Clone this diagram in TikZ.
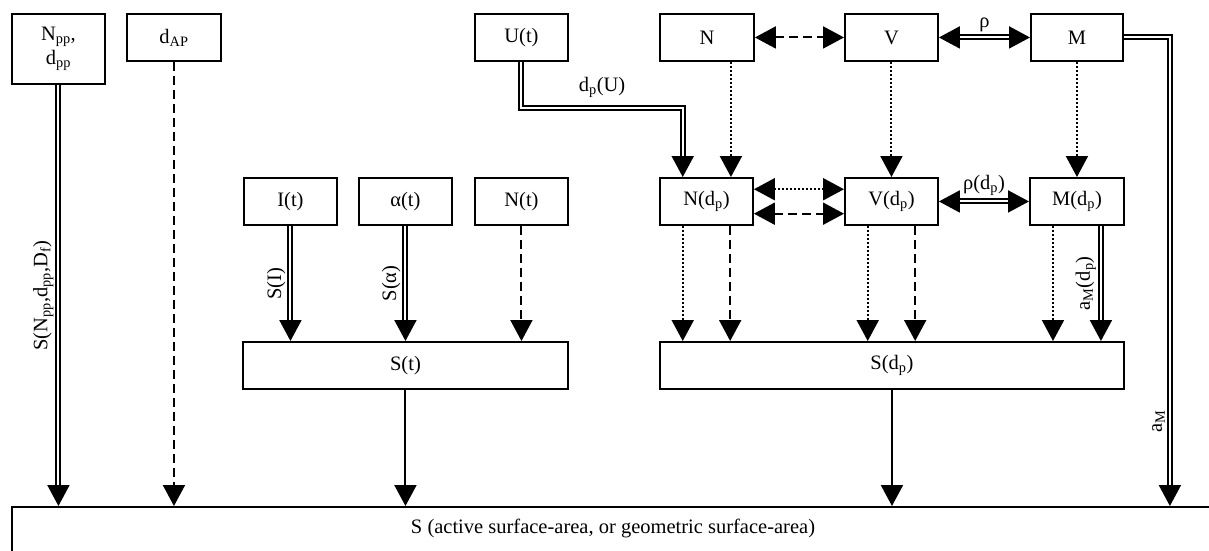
\documentclass[tikz,border=0pt]{standalone}
\usepackage{fontspec}
\setmainfont{Liberation Serif}
\usetikzlibrary{arrows.meta,calc}
\tikzset{
  box/.style={draw, line width=1.9pt, minimum width=93pt, minimum height=47pt, inner sep=0pt, anchor=north west, align=center},
  tipend/.style={-{Triangle[length=21pt,width=22pt]}},
  tipboth/.style={{Triangle[length=21pt,width=22pt]}-{Triangle[length=21pt,width=22pt]}},
  sol/.style={line width=2pt},
  dsh/.style={line width=2pt, dash pattern=on 9pt off 5pt},
  dtt/.style={line width=2pt, dash pattern=on 2pt off 2pt},
  dbl/.style={double, line width=2pt, double distance=2pt},
  vlab/.style={rotate=90, anchor=south, inner sep=4pt},
}
\newcommand\sbs[1]{\textsubscript{#1}}
\begin{document}
\begin{tikzpicture}[x=1pt,y=-1pt,font=\fontsize{20.5}{24}\selectfont]
\useasboundingbox (0,0) rectangle (1209,550);
\clip (0,0) rectangle (1209,550);
% top row
\node[box, minimum width=93pt, minimum height=70pt] (npp) at (11,13) {N\sbs{pp},\\d\sbs{pp}};
\node[box, minimum width=94pt] (dap) at (126,13) {d\sbs{AP}};
\node[box] (ut) at (474,13) {U(t)};
\node[box, minimum width=94pt] (n) at (659,13) {N};
\node[box] (v) at (844,13) {V};
\node[box, minimum width=92pt] (m) at (1030,13) {M};
% middle row
\node[box] (it) at (243,177) {I(t)};
\node[box] (at) at (358,177) {α(t)};
\node[box] (nt) at (474,177) {N(t)};
\node[box] (ndp) at (659,177) {N(d\sbs{p})};
\node[box] (vdp) at (844,177) {V(d\sbs{p})};
\node[box, minimum width=94pt] (mdp) at (1029,177) {M(d\sbs{p})};
% S row
\node[box, minimum width=325pt] (st) at (242,341) {S(t)};
\node[box, minimum width=464pt] (sdp) at (659,341) {S(d\sbs{p})};
% bottom
\node[box, minimum width=1240pt, minimum height=70pt] (bot) at (11,506) {};
\node (bottxt) at (613,528) {S (active surface-area, or geometric surface-area)};
% helper coordinates
\coordinate (ndpA) at ($(ndp.north west)!0.25!(ndp.north east)$);
\coordinate (ndpB) at ($(ndp.south west)!0.75!(ndp.south east)$);
\coordinate (ndpA2) at ($(ndp.south west)!0.25!(ndp.south east)$);
\coordinate (ndpNE) at ($(ndp.north east)!0.25!(ndp.south east)$);
\coordinate (ndpSE) at ($(ndp.north east)!0.75!(ndp.south east)$);
\coordinate (vdpNW) at ($(vdp.north west)!0.25!(vdp.south west)$);
\coordinate (vdpSW) at ($(vdp.north west)!0.75!(vdp.south west)$);
\coordinate (vdpA) at ($(vdp.south west)!0.25!(vdp.south east)$);
\coordinate (vdpB) at ($(vdp.south west)!0.75!(vdp.south east)$);
\coordinate (mdpA) at ($(mdp.south west)!0.25!(mdp.south east)$);
\coordinate (mdpB) at ($(mdp.south west)!0.75!(mdp.south east)$);
\coordinate (nB) at ($(n.south west)!0.75!(n.south east)$);
\coordinate (uc1) at ($(ut.south)+(0,46)$);
\coordinate (uc2) at (uc1 -| ndpA);
\coordinate (mc) at ($(m.east)+(46,0)$);
% connectors top
\draw[dbl, tipend] (npp.south) -- (npp.south |- bot.north)
  node[vlab, pos=0.5] {S(N\sbs{pp},d\sbs{pp},D\sbs{f})};
\draw[dsh, tipend] (dap.south) -- (dap.south |- bot.north);
\draw[dbl, tipend] (ut.south) -- (uc1) -- (uc2)
  node[midway, above, inner sep=9pt] {d\sbs{p}(U)} -- (ndpA);
\draw[dtt, tipend] (nB) -- (nB |- ndp.north);
\draw[dsh, tipboth] (n.east) -- (v.west);
\draw[dbl, tipboth] (v.east) -- (m.west) node[midway, above, inner sep=5pt] {ρ};
\draw[dtt, tipend] (v.south) -- (vdp.north);
\draw[dtt, tipend] (m.south) -- (mdp.north);
\draw[dbl, tipend] (m.east) -- (mc) -- (mc |- bot.north)
  node[vlab, pos=0.82] {a\sbs{M}};
% middle connectors
\draw[dtt, tipboth] (ndpNE) -- (vdpNW);
\draw[dsh, tipboth] (ndpSE) -- (vdpSW);
\draw[dbl, tipboth] (vdp.east) -- (mdp.west) node[midway, above, inner sep=5pt] {ρ(d\sbs{p})};
\draw[dbl, tipend] (it.south) -- (it.south |- st.north) node[vlab, pos=0.5] {S(I)};
\draw[dbl, tipend] (at.south) -- (at.south |- st.north) node[vlab, pos=0.5] {S(α)};
\draw[dsh, tipend] (nt.south) -- (nt.south |- st.north);
\draw[dtt, tipend] (ndpA2) -- (ndpA2 |- sdp.north);
\draw[dsh, tipend] (ndpB) -- (ndpB |- sdp.north);
\draw[dtt, tipend] (vdpA) -- (vdpA |- sdp.north);
\draw[dsh, tipend] (vdpB) -- (vdpB |- sdp.north);
\draw[dtt, tipend] (mdpA) -- (mdpA |- sdp.north);
\draw[dbl, tipend] (mdpB) -- (mdpB |- sdp.north) node[vlab, pos=0.5] {a\sbs{M}(d\sbs{p})};
% to bottom
\draw[sol, tipend] (st.south) -- (st.south |- bot.north);
\draw[sol, tipend] (sdp.south) -- (sdp.south |- bot.north);
\end{tikzpicture}
\end{document}
